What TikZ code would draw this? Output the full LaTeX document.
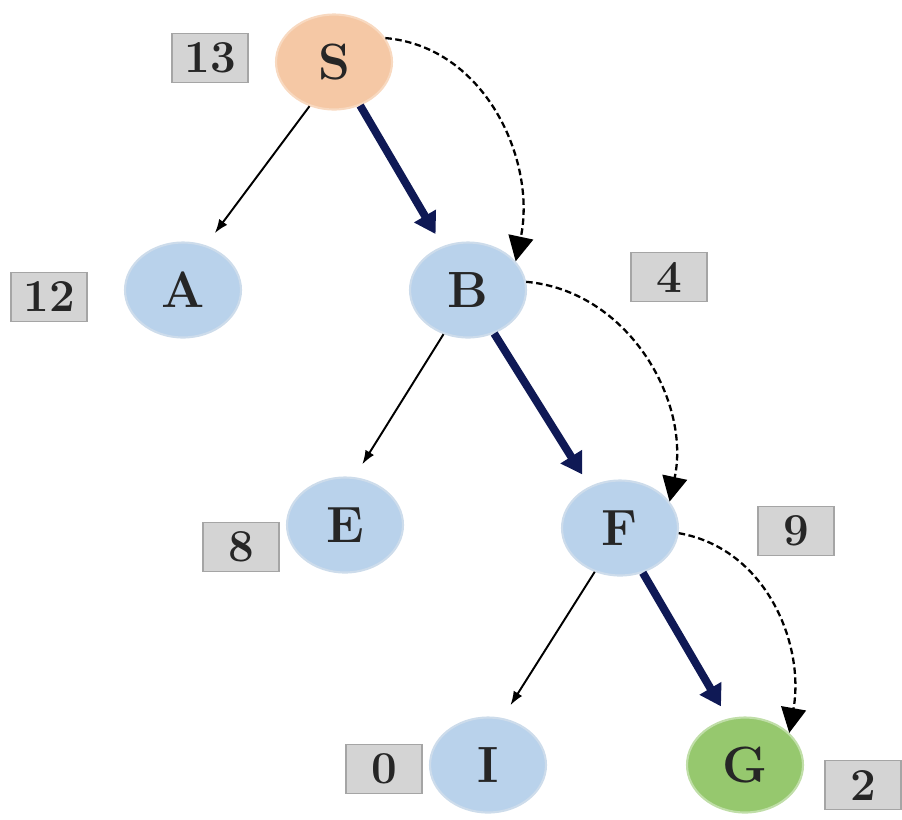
\documentclass[tikz,border=0pt]{standalone}
\usetikzlibrary{arrows.meta,shapes.geometric}

\definecolor{startfill}{RGB}{245,200,165}
\definecolor{nodefill}{RGB}{185,210,235}
\definecolor{goalfill}{RGB}{150,200,110}
\definecolor{nodeedge}{RGB}{205,220,235}
\definecolor{boxfill}{RGB}{212,212,212}
\definecolor{boxedge}{RGB}{165,165,165}
\definecolor{pathblue}{RGB}{15,25,85}

\begin{document}
\begin{tikzpicture}[x=0.02cm,y=-0.02cm,
    state/.style={ellipse,fill=nodefill,draw=nodeedge,line width=1.2pt,
                  minimum width=2.32cm,minimum height=1.9cm,inner sep=0pt,
                  font=\fontsize{29}{36}\selectfont\bfseries,text=black!85},
    hval/.style={rectangle,fill=boxfill,draw=boxedge,line width=0.8pt,
                 minimum width=1.52cm,minimum height=0.98cm,inner sep=0pt,
                 font=\fontsize{26}{32}\selectfont\bfseries,text=black!85},
    tree/.style={line width=1.1pt,-{Latex[length=0.28cm,width=0.2cm]},shorten >=0.3cm},
    best/.style={line width=4.5pt,pathblue,-{Triangle[length=0.42cm,width=0.48cm]},shorten >=0.28cm},
    visit/.style={line width=1.3pt,dash pattern=on 0.13cm off 0.07cm,
                  -{Triangle[length=0.5cm,width=0.5cm]}}]

     \useasboundingbox (0,0) rectangle (902,819);

     % the search tree
     \node[state,fill=startfill,draw=startfill!70!white] (S) at (334,62)  {S};
     \node[state] (A) at (183,290) {A};
     \node[state] (B) at (468,290) {B};
     \node[state] (E) at (345,525) {E};
     \node[state] (F) at (620,528) {F};
     \node[state] (I) at (488,765) {I};
     \node[state,fill=goalfill,draw=goalfill!60!white] (G) at (745,765) {G};

     % heuristic values
     \node[hval] (hS) at (210,58)  {13};
     \node[hval] (hA) at (49,297)  {12};
     \node[hval] (hB) at (669,277) {4};
     \node[hval] (hE) at (241,547) {8};
     \node[hval] (hF) at (796,531) {9};
     \node[hval] (hI) at (384,769) {0};
     \node[hval] (hG) at (863,785) {2};

     % children that are not taken
     \draw[tree] (S.241) -- (A.63);
     \draw[tree] (B.241) -- (E.79);
     \draw[tree] (F.240) -- (I.73);

     % the chosen path
     \draw[best] (S.301) -- (B.120);
     \draw[best] (B.301) -- (F.126);
     \draw[best] (F.297) -- (G.110);

     % order of expansion
     \draw[visit] (S.25)  to[out=-5,in=78] (B.31);
     \draw[visit] (B.8)   to[out=-5,in=78] (F.28);
     \draw[visit] (F.-5)  to[out=-10,in=80] (G.36);
  \end{tikzpicture}
\end{document}
